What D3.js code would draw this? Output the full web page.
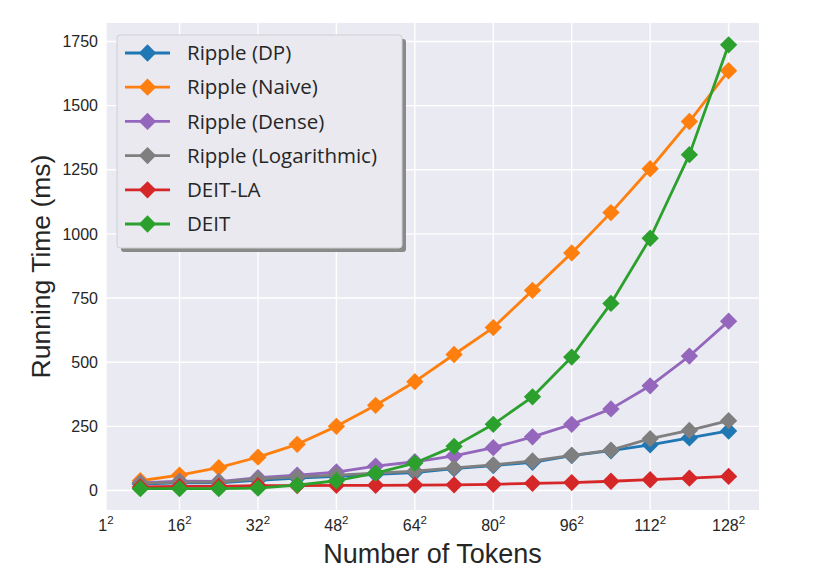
<!DOCTYPE html>
<html>
<head>
<meta charset="utf-8">
<script src="https://cdn.jsdelivr.net/npm/d3@7"></script>
<style>
  body { margin: 0; background: #fff; }
  svg { display: block; }
  .ytick { font-family: "Liberation Sans", Arial, sans-serif; font-size: 16px; fill: #262626; }
  .xtick { font-family: "Liberation Sans", Arial, sans-serif; font-size: 16px; fill: #262626; }
  .axlabel { font-family: "Liberation Sans", Arial, sans-serif; fill: #262626; }
  .legend text { font-family: "Open Sans", sans-serif; font-size: 20.5px; fill: #262626; }
</style>
</head>
<body>
<svg id="chart" width="830" height="580"></svg>
<script>
  // side length n of the token grid, plotted as n^2
  const sides = [8, 16, 24, 32, 40, 48, 56, 64, 72, 80, 88, 96, 104, 112, 120, 128];

  const rippleDP    = [25, 30, 30, 40, 48, 55, 63, 70, 85, 97, 110, 136, 155, 178, 205, 232];
  const rippleNaive = [38, 60, 89, 130, 180, 250, 332, 424, 530, 635, 780, 926, 1083, 1254, 1438, 1636];
  const rippleDense = [30, 36, 35, 50, 60, 72, 95, 112, 135, 167, 209, 258, 318, 408, 524, 660];
  const rippleLog   = [28, 33, 33, 45, 53, 60, 68, 75, 88, 100, 115, 137, 157, 202, 234, 272];
  const deitLA      = [14, 16, 16, 19, 19, 20, 20, 21, 22, 24, 28, 31, 36, 42, 48, 55];
  const deit        = [7, 7, 7, 9, 21, 38, 68, 107, 172, 258, 365, 520, 729, 983, 1309, 1737];

  const seriesNames  = ['Ripple (DP)', 'Ripple (Naive)', 'Ripple (Dense)', 'Ripple (Logarithmic)', 'DEIT-LA', 'DEIT'];
  const seriesValues = [rippleDP, rippleNaive, rippleDense, rippleLog, deitLA, deit];
  const seriesColors = ['#1f77b4', '#ff7f0e', '#9467bd', '#7f7f7f', '#d62728', '#2ca02c'];

  const xTicks = [1, 16, 32, 48, 64, 80, 96, 112, 128];
  const yTicks = [0, 250, 500, 750, 1000, 1250, 1500, 1750];

  const svg = d3.select('#chart');
  const plot = {left: 106, right: 759, top: 23, bottom: 510};

  const x = d3.scaleLinear().domain([1, 134.2]).range([plot.left, plot.right]);
  const y = d3.scaleLinear().domain([-76, 1822]).range([plot.bottom, plot.top]);

  // axes background
  svg.append('rect')
    .attr('x', plot.left).attr('y', plot.top)
    .attr('width', plot.right - plot.left).attr('height', plot.bottom - plot.top)
    .attr('fill', '#eaeaf2');

  // grid
  const grid = svg.append('g').attr('stroke', '#fff').attr('stroke-width', 1.4);
  grid.selectAll('.gx').data(xTicks).join('line')
    .attr('x1', d => x(d)).attr('x2', d => x(d))
    .attr('y1', plot.top).attr('y2', plot.bottom);
  grid.selectAll('.gy').data(yTicks).join('line')
    .attr('y1', d => y(d)).attr('y2', d => y(d))
    .attr('x1', plot.left).attr('x2', plot.right);

  // y tick labels
  svg.append('g').selectAll('text').data(yTicks).join('text')
    .attr('class', 'ytick')
    .attr('x', plot.left - 8)
    .attr('y', d => y(d))
    .attr('dy', '0.35em')
    .attr('text-anchor', 'end')
    .text(d => d);

  // x tick labels as n^2
  const xt = svg.append('g').selectAll('text').data(xTicks).join('text')
    .attr('class', 'xtick')
    .attr('x', d => x(d))
    .attr('y', 531)
    .attr('text-anchor', 'middle');
  xt.append('tspan').text(d => d);
  xt.append('tspan').attr('dy', -7).attr('font-size', 11.5).text('2');

  // axis labels
  svg.append('text')
    .attr('class', 'axlabel')
    .attr('x', (plot.left + plot.right) / 2)
    .attr('y', 563)
    .attr('text-anchor', 'middle')
    .attr('font-size', 27)
    .text('Number of Tokens');

  svg.append('text')
    .attr('class', 'axlabel')
    .attr('transform', `translate(50, ${(plot.top + plot.bottom) / 2}) rotate(-90)`)
    .attr('text-anchor', 'middle')
    .attr('font-size', 26.5)
    .text('Running Time (ms)');

  // series
  const line = d3.line().x((d, i) => x(sides[i])).y(d => y(d));
  const diamond = d3.symbol().type(d3.symbolSquare).size(150);

  seriesValues.forEach((vals, s) => {
    const g = svg.append('g');
    g.append('path')
      .attr('d', line(vals))
      .attr('fill', 'none')
      .attr('stroke', seriesColors[s])
      .attr('stroke-width', 2.8)
      .attr('stroke-linejoin', 'round');
    g.selectAll('path.m').data(vals).join('path')
      .attr('class', 'm')
      .attr('d', diamond)
      .attr('transform', (d, i) => `translate(${x(sides[i])},${y(d)}) rotate(45)`)
      .attr('fill', seriesColors[s]);
  });

  // legend
  const lg = svg.append('g').attr('class', 'legend');
  const box = {x: 117, y: 35, w: 285, h: 213};
  lg.append('rect')
    .attr('x', box.x + 4).attr('y', box.y + 4)
    .attr('width', box.w).attr('height', box.h)
    .attr('rx', 3).attr('fill', '#8a8a8a');
  lg.append('rect')
    .attr('x', box.x).attr('y', box.y)
    .attr('width', box.w).attr('height', box.h)
    .attr('rx', 3)
    .attr('fill', '#e9e9ef')
    .attr('stroke', '#cfcfd4').attr('stroke-width', 1);

  const rowY = d3.scaleLinear().domain([0, 5]).range([53, 224]);
  seriesNames.forEach((name, s) => {
    const cy = rowY(s);
    lg.append('line')
      .attr('x1', 125).attr('x2', 170)
      .attr('y1', cy).attr('y2', cy)
      .attr('stroke', seriesColors[s]).attr('stroke-width', 2.8);
    lg.append('path')
      .attr('d', diamond)
      .attr('transform', `translate(147.5,${cy}) rotate(45)`)
      .attr('fill', seriesColors[s]);
    lg.append('text')
      .attr('x', 187).attr('y', cy).attr('dy', '0.35em')
      .text(name);
  });
</script>
</body>
</html>
